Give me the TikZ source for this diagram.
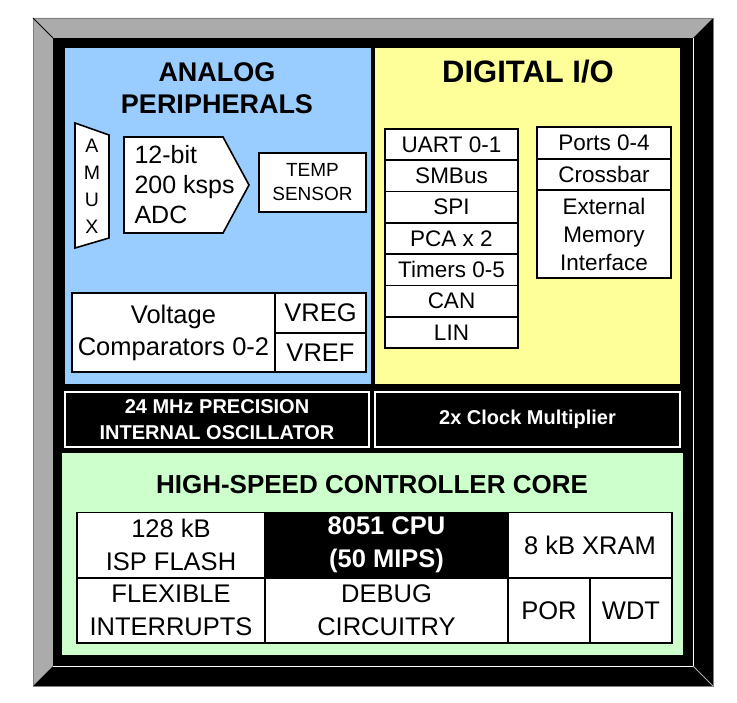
\documentclass[tikz,border=0pt]{standalone}
\usepackage{fontspec}
\setmainfont{Liberation Sans}
\usetikzlibrary{positioning}
\definecolor{anablue}{HTML}{99CCFF}
\definecolor{digyellow}{HTML}{FFFF99}
\definecolor{coregreen}{HTML}{CCFFCC}
\definecolor{bevelgray}{HTML}{ABABAB}
\newcommand{\pxfont}[2]{\fontsize{#1}{#2}\selectfont}
\tikzstyle{whitebox}=[draw=black, fill=white, line width=1.6pt, inner sep=0pt, align=center]
\tikzstyle{blackbox}=[draw=white, fill=black, text=white, line width=1.2pt, inner sep=0pt, align=center, font=\bfseries\pxfont{20}{26}]
\tikzstyle{iorow}=[whitebox, minimum width=133pt, minimum height=31.3pt, font=\pxfont{22.5}{28}]
\tikzstyle{corecell}=[whitebox, minimum height=65pt, font=\pxfont{25.5}{33}]

\begin{document}
\begin{tikzpicture}[x=1pt,y=-1pt]
    \useasboundingbox (0,0) rectangle (737,703);

    % Frame
    \fill[bevelgray] (33,18) -- (713,18) -- (693,38) -- (53,38) -- cycle;
    \fill[bevelgray] (33,18) -- (53,38) -- (53,666) -- (33,686) -- cycle;
    \fill[black] (713,18) -- (713,686) -- (33,686) -- (53,666) -- (693,666) -- (693,38) -- cycle;
    \fill[black] (53,38) rectangle (693,666);
    \draw[gray, line width=0.6pt] (33,18) -- (713,18) -- (713,686) -- (33,686) -- cycle;
    \draw[black, line width=0.8pt] (33,18) -- (53,38);
    \draw[white, line width=0.8pt] (693,38) -- (693,666) -- (53,666);
    \draw[bevelgray, line width=0.8pt] (693,666) -- (713,686);

    % Regions
    \fill[anablue] (65,48) rectangle (371,384);
    \fill[digyellow] (375,48) rectangle (680,384);
    \fill[coregreen] (62,453) rectangle (683,655);

    % Analog peripherals
    \node[font=\bfseries\pxfont{27}{32}, align=center] (anatitle) at (217,88) {ANALOG\\PERIPHERALS};
    \draw[fill=white, line width=1.6pt] (75,123) -- (109,135) -- (109,238) -- (75,248) -- cycle;
    \node[font=\pxfont{19.5}{27}, align=center] (amux) at (92,186) {A\\M\\U\\X};
    \draw[fill=white, line width=1.6pt] (124,137) -- (223,137) -- (249,185) -- (223,233) -- (124,233) -- cycle;
    \node[font=\pxfont{25}{30}, align=left, anchor=west] (adc) at (131,185) {12-bit\\200 ksps\\ADC};
    \node[whitebox, minimum width=107pt, minimum height=59pt, font=\pxfont{19}{24}] (temp) at (312.5,182.5) {TEMP\\SENSOR};
    \node[whitebox, minimum width=203pt, minimum height=79pt, font=\pxfont{25.5}{32}] (comp) at (173.5,332.5) {Voltage\\Comparators 0-2};
    \node[whitebox, minimum width=91pt, minimum height=40pt, font=\pxfont{25.5}{30}] (vreg) at (320.5,313) {VREG};
    \node[whitebox, minimum width=91pt, minimum height=39pt, font=\pxfont{25.5}{30}] (vref) at (320.5,352.5) {VREF};

    % Digital I/O
    \node[font=\bfseries\pxfont{31}{34}] (digtitle) at (528,72) {DIGITAL I/O};
    \node[iorow] (uart) at (451.5,144.6) {UART 0-1};
    \node[iorow] (smbus) at (451.5,175.9) {SMBus};
    \node[iorow] (spi) at (451.5,207.2) {SPI};
    \node[iorow] (pca) at (451.5,238.5) {PCA x 2};
    \node[iorow] (timers) at (451.5,269.8) {Timers 0-5};
    \node[iorow] (can) at (451.5,301.1) {CAN};
    \node[iorow] (lin) at (451.5,332.4) {LIN};
    \node[iorow, minimum width=134pt, minimum height=32pt] (ports) at (604,143) {Ports 0-4};
    \node[iorow, minimum width=134pt, minimum height=31pt] (xbar) at (604,174.5) {Crossbar};
    \node[iorow, minimum width=134pt, minimum height=88pt] (emif) at (604,234) {External\\Memory\\Interface};

    % Clock sources
    \node[blackbox, minimum width=304pt, minimum height=55pt] (osc) at (217,419.5) {24 MHz PRECISION\\INTERNAL OSCILLATOR};
    \node[blackbox, minimum width=305pt, minimum height=55pt] (clkmul) at (527.5,419.5) {2x Clock Multiplier};

    % Controller core
    \node[font=\bfseries\pxfont{26}{30}] (coretitle) at (372,485) {HIGH-SPEED CONTROLLER CORE};
    \node[corecell, minimum width=188pt] (flash) at (171,545) {128 kB\\ISP FLASH};
    \node[corecell, draw=black, fill=black, text=white, minimum width=243pt, font=\bfseries\pxfont{25.5}{33}] (cpu) at (386.5,545) {8051 CPU\\(50 MIPS)};
    \node[corecell, minimum width=164pt] (xram) at (590,545) {8 kB XRAM};
    \node[corecell, minimum width=188pt] (irq) at (171,610.5) {FLEXIBLE\\INTERRUPTS};
    \node[corecell, minimum width=243pt] (debug) at (386.5,610.5) {DEBUG\\CIRCUITRY};
    \node[corecell, minimum width=82pt] (por) at (549,610.5) {POR};
    \node[corecell, minimum width=82pt] (wdt) at (631,610.5) {WDT};

\end{tikzpicture}
\end{document}
